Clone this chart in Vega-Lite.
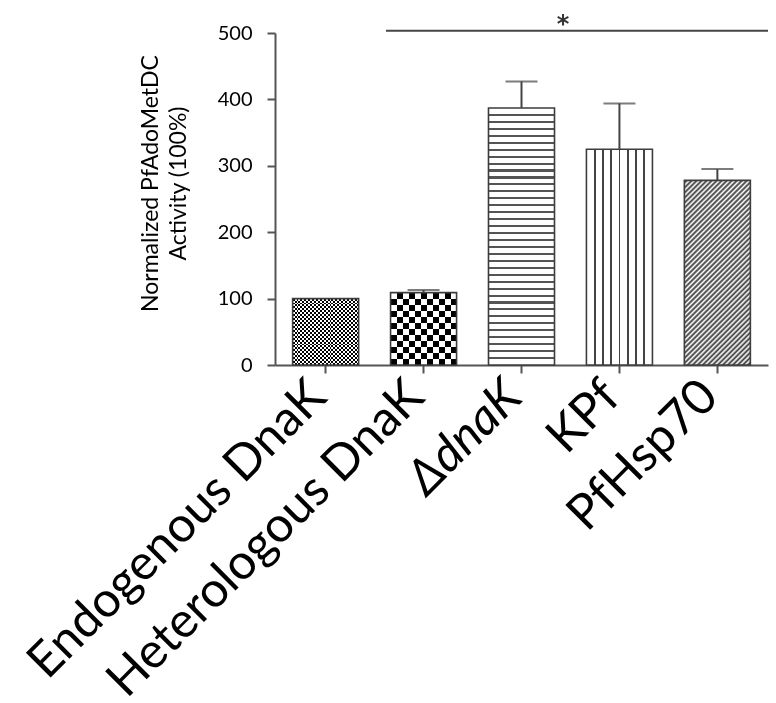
{
  "$schema": "https://vega.github.io/schema/vega-lite/v6.json",
  "width": 493,
  "height": 332,
  "autosize": {"type": "none"},
  "padding": {"left": 275, "top": 33, "right": 8, "bottom": 338},
  "background": "white",
  "config": {
    "view": {"stroke": null},
    "font": "Lato, Open Sans, sans-serif",
    "axis": {"grid": false, "domainColor": "#555", "domainWidth": 2, "tickColor": "#555", "tickWidth": 2, "tickSize": 8, "labelColor": "#000", "titleColor": "#000", "titleFontWeight": "normal"},
    "axisY": {"labelFontSize": 20, "labelPadding": 15, "titleFontSize": 23, "titleX": -136, "titleY": 150, "titleAlign": "center", "titleBaseline": "top", "titleLineHeight": 28, "titleAngle": 270},
    "axisX": {"labelAngle": -45, "labelAlign": "right", "labelBaseline": "alphabetic", "labelFontSize": 49, "labelPadding": 26, "labelOffset": 3, "tickOffset": 5, "labelLimit": 2000, "labelOverlap": false, "labelBound": false, "labelFlush": false}
  },
  "layer": [
    {
      "data": {"values": [
        {"g": "Endogenous DnaK", "v": 100, "hi": null},
        {"g": "Heterologous DnaK", "v": 109, "hi": 113},
        {"g": "ΔdnaK", "v": 387, "hi": 427},
        {"g": "KPf", "v": 325, "hi": 394},
        {"g": "PfHsp70", "v": 278, "hi": 295}
      ]},
      "encoding": {
        "x": {"field": "g", "type": "nominal", "sort": null, "title": null,
          "scale": {"paddingInner": 0.326, "paddingOuter": 0.18},
          "axis": {"labelFontStyle": {"condition": {"test": "datum.value === 'ΔdnaK'", "value": "italic"}, "value": "normal"}}},
        "y": {"field": "v", "type": "quantitative", "scale": {"domain": [0, 500], "nice": false},
          "axis": {"values": [0, 100, 200, 300, 400, 500], "title": ["Normalized PfAdoMetDC", "Activity (100%)"]}}
      },
      "layer": [
        {
          "mark": {"type": "bar", "strokeWidth": 0},
          "encoding": {
            "fill": {
              "condition": [
                {"test": "datum.g === 'Endogenous DnaK'", "value": {"gradient": "linear", "x1": 0, "y1": 0, "x2": 0, "y2": 1, "stops": [
                  {"offset":0,"color":"#000"},
                  {"offset":0.0294,"color":"#000"},{"offset":0.0294,"color":"#fff"},
                  {"offset":0.0588,"color":"#fff"},{"offset":0.0588,"color":"#000"},
                  {"offset":0.0882,"color":"#000"},{"offset":0.0882,"color":"#fff"},
                  {"offset":0.1176,"color":"#fff"},{"offset":0.1176,"color":"#000"},
                  {"offset":0.1471,"color":"#000"},{"offset":0.1471,"color":"#fff"},
                  {"offset":0.1765,"color":"#fff"},{"offset":0.1765,"color":"#000"},
                  {"offset":0.2059,"color":"#000"},{"offset":0.2059,"color":"#fff"},
                  {"offset":0.2353,"color":"#fff"},{"offset":0.2353,"color":"#000"},
                  {"offset":0.2647,"color":"#000"},{"offset":0.2647,"color":"#fff"},
                  {"offset":0.2941,"color":"#fff"},{"offset":0.2941,"color":"#000"},
                  {"offset":0.3235,"color":"#000"},{"offset":0.3235,"color":"#fff"},
                  {"offset":0.3529,"color":"#fff"},{"offset":0.3529,"color":"#000"},
                  {"offset":0.3824,"color":"#000"},{"offset":0.3824,"color":"#fff"},
                  {"offset":0.4118,"color":"#fff"},{"offset":0.4118,"color":"#000"},
                  {"offset":0.4412,"color":"#000"},{"offset":0.4412,"color":"#fff"},
                  {"offset":0.4706,"color":"#fff"},{"offset":0.4706,"color":"#000"},
                  {"offset":0.5,"color":"#000"},{"offset":0.5,"color":"#fff"},
                  {"offset":0.5294,"color":"#fff"},{"offset":0.5294,"color":"#000"},
                  {"offset":0.5588,"color":"#000"},{"offset":0.5588,"color":"#fff"},
                  {"offset":0.5882,"color":"#fff"},{"offset":0.5882,"color":"#000"},
                  {"offset":0.6176,"color":"#000"},{"offset":0.6176,"color":"#fff"},
                  {"offset":0.6471,"color":"#fff"},{"offset":0.6471,"color":"#000"},
                  {"offset":0.6765,"color":"#000"},{"offset":0.6765,"color":"#fff"},
                  {"offset":0.7059,"color":"#fff"},{"offset":0.7059,"color":"#000"},
                  {"offset":0.7353,"color":"#000"},{"offset":0.7353,"color":"#fff"},
                  {"offset":0.7647,"color":"#fff"},{"offset":0.7647,"color":"#000"},
                  {"offset":0.7941,"color":"#000"},{"offset":0.7941,"color":"#fff"},
                  {"offset":0.8235,"color":"#fff"},{"offset":0.8235,"color":"#000"},
                  {"offset":0.8529,"color":"#000"},{"offset":0.8529,"color":"#fff"},
                  {"offset":0.8824,"color":"#fff"},{"offset":0.8824,"color":"#000"},
                  {"offset":0.9118,"color":"#000"},{"offset":0.9118,"color":"#fff"},
                  {"offset":0.9412,"color":"#fff"},{"offset":0.9412,"color":"#000"},
                  {"offset":0.9706,"color":"#000"},{"offset":0.9706,"color":"#fff"},
                  {"offset":1,"color":"#fff"}]}},
                {"test": "datum.g === 'Heterologous DnaK'", "value": {"gradient": "linear", "x1": 0, "y1": 0, "x2": 0, "y2": 1, "stops": [
                  {"offset":0,"color":"#000"},{"offset":0.0833,"color":"#000"},{"offset":0.0833,"color":"#fff"},
                  {"offset":0.1667,"color":"#fff"},{"offset":0.1667,"color":"#000"},{"offset":0.25,"color":"#000"},
                  {"offset":0.25,"color":"#fff"},{"offset":0.3333,"color":"#fff"},{"offset":0.3333,"color":"#000"},
                  {"offset":0.4167,"color":"#000"},{"offset":0.4167,"color":"#fff"},{"offset":0.5,"color":"#fff"},
                  {"offset":0.5,"color":"#000"},{"offset":0.5833,"color":"#000"},{"offset":0.5833,"color":"#fff"},
                  {"offset":0.6667,"color":"#fff"},{"offset":0.6667,"color":"#000"},{"offset":0.75,"color":"#000"},
                  {"offset":0.75,"color":"#fff"},{"offset":0.8333,"color":"#fff"},{"offset":0.8333,"color":"#000"},
                  {"offset":0.9167,"color":"#000"},{"offset":0.9167,"color":"#fff"},{"offset":1,"color":"#fff"}]}},
                {"test": "datum.g === 'ΔdnaK'", "value": {"gradient": "linear", "x1": 0, "y1": 0, "x2": 0, "y2": 1, "stops": [
                  {"offset":0.0230,"color":"#fff"},{"offset":0.0230,"color":"#555"},{"offset":0.0310,"color":"#555"},{"offset":0.0310,"color":"#fff"},
                  {"offset":0.0501,"color":"#fff"},{"offset":0.0501,"color":"#555"},{"offset":0.0581,"color":"#555"},{"offset":0.0581,"color":"#fff"},
                  {"offset":0.0771,"color":"#fff"},{"offset":0.0771,"color":"#555"},{"offset":0.0851,"color":"#555"},{"offset":0.0851,"color":"#fff"},
                  {"offset":0.1041,"color":"#fff"},{"offset":0.1041,"color":"#555"},{"offset":0.1121,"color":"#555"},{"offset":0.1121,"color":"#fff"},
                  {"offset":0.1311,"color":"#fff"},{"offset":0.1311,"color":"#555"},{"offset":0.1391,"color":"#555"},{"offset":0.1391,"color":"#fff"},
                  {"offset":0.1582,"color":"#fff"},{"offset":0.1582,"color":"#555"},{"offset":0.1662,"color":"#555"},{"offset":0.1662,"color":"#fff"},
                  {"offset":0.1852,"color":"#fff"},{"offset":0.1852,"color":"#555"},{"offset":0.1932,"color":"#555"},{"offset":0.1932,"color":"#fff"},
                  {"offset":0.2122,"color":"#fff"},{"offset":0.2122,"color":"#555"},{"offset":0.2202,"color":"#555"},{"offset":0.2202,"color":"#fff"},
                  {"offset":0.2392,"color":"#fff"},{"offset":0.2392,"color":"#555"},{"offset":0.2472,"color":"#555"},{"offset":0.2472,"color":"#fff"},
                  {"offset":0.2663,"color":"#fff"},{"offset":0.2663,"color":"#555"},{"offset":0.2743,"color":"#555"},{"offset":0.2743,"color":"#fff"},
                  {"offset":0.2933,"color":"#fff"},{"offset":0.2933,"color":"#555"},{"offset":0.3013,"color":"#555"},{"offset":0.3013,"color":"#fff"},
                  {"offset":0.3203,"color":"#fff"},{"offset":0.3203,"color":"#555"},{"offset":0.3283,"color":"#555"},{"offset":0.3283,"color":"#fff"},
                  {"offset":0.3474,"color":"#fff"},{"offset":0.3474,"color":"#555"},{"offset":0.3554,"color":"#555"},{"offset":0.3554,"color":"#fff"},
                  {"offset":0.3744,"color":"#fff"},{"offset":0.3744,"color":"#555"},{"offset":0.3824,"color":"#555"},{"offset":0.3824,"color":"#fff"},
                  {"offset":0.4014,"color":"#fff"},{"offset":0.4014,"color":"#555"},{"offset":0.4094,"color":"#555"},{"offset":0.4094,"color":"#fff"},
                  {"offset":0.4284,"color":"#fff"},{"offset":0.4284,"color":"#555"},{"offset":0.4364,"color":"#555"},{"offset":0.4364,"color":"#fff"},
                  {"offset":0.4555,"color":"#fff"},{"offset":0.4555,"color":"#555"},{"offset":0.4635,"color":"#555"},{"offset":0.4635,"color":"#fff"},
                  {"offset":0.4825,"color":"#fff"},{"offset":0.4825,"color":"#555"},{"offset":0.4905,"color":"#555"},{"offset":0.4905,"color":"#fff"},
                  {"offset":0.5095,"color":"#fff"},{"offset":0.5095,"color":"#555"},{"offset":0.5175,"color":"#555"},{"offset":0.5175,"color":"#fff"},
                  {"offset":0.5365,"color":"#fff"},{"offset":0.5365,"color":"#555"},{"offset":0.5445,"color":"#555"},{"offset":0.5445,"color":"#fff"},
                  {"offset":0.5636,"color":"#fff"},{"offset":0.5636,"color":"#555"},{"offset":0.5716,"color":"#555"},{"offset":0.5716,"color":"#fff"},
                  {"offset":0.5906,"color":"#fff"},{"offset":0.5906,"color":"#555"},{"offset":0.5986,"color":"#555"},{"offset":0.5986,"color":"#fff"},
                  {"offset":0.6176,"color":"#fff"},{"offset":0.6176,"color":"#555"},{"offset":0.6256,"color":"#555"},{"offset":0.6256,"color":"#fff"},
                  {"offset":0.6446,"color":"#fff"},{"offset":0.6446,"color":"#555"},{"offset":0.6526,"color":"#555"},{"offset":0.6526,"color":"#fff"},
                  {"offset":0.6717,"color":"#fff"},{"offset":0.6717,"color":"#555"},{"offset":0.6797,"color":"#555"},{"offset":0.6797,"color":"#fff"},
                  {"offset":0.6987,"color":"#fff"},{"offset":0.6987,"color":"#555"},{"offset":0.7067,"color":"#555"},{"offset":0.7067,"color":"#fff"},
                  {"offset":0.7257,"color":"#fff"},{"offset":0.7257,"color":"#555"},{"offset":0.7337,"color":"#555"},{"offset":0.7337,"color":"#fff"},
                  {"offset":0.7528,"color":"#fff"},{"offset":0.7528,"color":"#555"},{"offset":0.7608,"color":"#555"},{"offset":0.7608,"color":"#fff"},
                  {"offset":0.7798,"color":"#fff"},{"offset":0.7798,"color":"#555"},{"offset":0.7878,"color":"#555"},{"offset":0.7878,"color":"#fff"},
                  {"offset":0.8068,"color":"#fff"},{"offset":0.8068,"color":"#555"},{"offset":0.8148,"color":"#555"},{"offset":0.8148,"color":"#fff"},
                  {"offset":0.8338,"color":"#fff"},{"offset":0.8338,"color":"#555"},{"offset":0.8418,"color":"#555"},{"offset":0.8418,"color":"#fff"},
                  {"offset":0.8609,"color":"#fff"},{"offset":0.8609,"color":"#555"},{"offset":0.8689,"color":"#555"},{"offset":0.8689,"color":"#fff"},
                  {"offset":0.8879,"color":"#fff"},{"offset":0.8879,"color":"#555"},{"offset":0.8959,"color":"#555"},{"offset":0.8959,"color":"#fff"},
                  {"offset":0.9149,"color":"#fff"},{"offset":0.9149,"color":"#555"},{"offset":0.9229,"color":"#555"},{"offset":0.9229,"color":"#fff"},
                  {"offset":0.9419,"color":"#fff"},{"offset":0.9419,"color":"#555"},{"offset":0.9499,"color":"#555"},{"offset":0.9499,"color":"#fff"},
                  {"offset":0.9690,"color":"#fff"},{"offset":0.9690,"color":"#555"},{"offset":0.9770,"color":"#555"},{"offset":0.9770,"color":"#fff"}]}},
                {"test": "datum.g === 'KPf'", "value": {"gradient": "linear", "x1": 0, "y1": 0, "x2": 1, "y2": 0, "stops": [
                  {"offset":0.111,"color":"#fff"},{"offset":0.111,"color":"#444"},{"offset":0.139,"color":"#444"},{"offset":0.139,"color":"#fff"},
                  {"offset":0.236,"color":"#fff"},{"offset":0.236,"color":"#444"},{"offset":0.264,"color":"#444"},{"offset":0.264,"color":"#fff"},
                  {"offset":0.361,"color":"#fff"},{"offset":0.361,"color":"#444"},{"offset":0.389,"color":"#444"},{"offset":0.389,"color":"#fff"},
                  {"offset":0.486,"color":"#fff"},{"offset":0.486,"color":"#444"},{"offset":0.514,"color":"#444"},{"offset":0.514,"color":"#fff"},
                  {"offset":0.611,"color":"#fff"},{"offset":0.611,"color":"#444"},{"offset":0.639,"color":"#444"},{"offset":0.639,"color":"#fff"},
                  {"offset":0.736,"color":"#fff"},{"offset":0.736,"color":"#444"},{"offset":0.764,"color":"#444"},{"offset":0.764,"color":"#fff"},
                  {"offset":0.861,"color":"#fff"},{"offset":0.861,"color":"#444"},{"offset":0.889,"color":"#444"},{"offset":0.889,"color":"#fff"}]}}
              ],
              "value": {"gradient": "linear", "x1": 0, "y1": 0, "x2": 0.4294, "y2": 1.2036, "stops": [
                {"offset":0,"color":"#fff"},{"offset":0.01,"color":"#333"},{"offset":0.02,"color":"#fff"},{"offset":0.03,"color":"#333"},{"offset":0.04,"color":"#fff"},
                {"offset":0.05,"color":"#333"},{"offset":0.06,"color":"#fff"},{"offset":0.07,"color":"#333"},{"offset":0.08,"color":"#fff"},{"offset":0.09,"color":"#333"},
                {"offset":0.10,"color":"#fff"},{"offset":0.11,"color":"#333"},{"offset":0.12,"color":"#fff"},{"offset":0.13,"color":"#333"},{"offset":0.14,"color":"#fff"},
                {"offset":0.15,"color":"#333"},{"offset":0.16,"color":"#fff"},{"offset":0.17,"color":"#333"},{"offset":0.18,"color":"#fff"},{"offset":0.19,"color":"#333"},
                {"offset":0.20,"color":"#fff"},{"offset":0.21,"color":"#333"},{"offset":0.22,"color":"#fff"},{"offset":0.23,"color":"#333"},{"offset":0.24,"color":"#fff"},
                {"offset":0.25,"color":"#333"},{"offset":0.26,"color":"#fff"},{"offset":0.27,"color":"#333"},{"offset":0.28,"color":"#fff"},{"offset":0.29,"color":"#333"},
                {"offset":0.30,"color":"#fff"},{"offset":0.31,"color":"#333"},{"offset":0.32,"color":"#fff"},{"offset":0.33,"color":"#333"},{"offset":0.34,"color":"#fff"},
                {"offset":0.35,"color":"#333"},{"offset":0.36,"color":"#fff"},{"offset":0.37,"color":"#333"},{"offset":0.38,"color":"#fff"},{"offset":0.39,"color":"#333"},
                {"offset":0.40,"color":"#fff"},{"offset":0.41,"color":"#333"},{"offset":0.42,"color":"#fff"},{"offset":0.43,"color":"#333"},{"offset":0.44,"color":"#fff"},
                {"offset":0.45,"color":"#333"},{"offset":0.46,"color":"#fff"},{"offset":0.47,"color":"#333"},{"offset":0.48,"color":"#fff"},{"offset":0.49,"color":"#333"},
                {"offset":0.50,"color":"#fff"},{"offset":0.51,"color":"#333"},{"offset":0.52,"color":"#fff"},{"offset":0.53,"color":"#333"},{"offset":0.54,"color":"#fff"},
                {"offset":0.55,"color":"#333"},{"offset":0.56,"color":"#fff"},{"offset":0.57,"color":"#333"},{"offset":0.58,"color":"#fff"},{"offset":0.59,"color":"#333"},
                {"offset":0.60,"color":"#fff"},{"offset":0.61,"color":"#333"},{"offset":0.62,"color":"#fff"},{"offset":0.63,"color":"#333"},{"offset":0.64,"color":"#fff"},
                {"offset":0.65,"color":"#333"},{"offset":0.66,"color":"#fff"},{"offset":0.67,"color":"#333"},{"offset":0.68,"color":"#fff"},{"offset":0.69,"color":"#333"},
                {"offset":0.70,"color":"#fff"},{"offset":0.71,"color":"#333"},{"offset":0.72,"color":"#fff"},{"offset":0.73,"color":"#333"},{"offset":0.74,"color":"#fff"},
                {"offset":0.75,"color":"#333"},{"offset":0.76,"color":"#fff"},{"offset":0.77,"color":"#333"},{"offset":0.78,"color":"#fff"},{"offset":0.79,"color":"#333"},
                {"offset":0.80,"color":"#fff"},{"offset":0.81,"color":"#333"},{"offset":0.82,"color":"#fff"},{"offset":0.83,"color":"#333"},{"offset":0.84,"color":"#fff"},
                {"offset":0.85,"color":"#333"},{"offset":0.86,"color":"#fff"},{"offset":0.87,"color":"#333"},{"offset":0.88,"color":"#fff"},{"offset":0.89,"color":"#333"},
                {"offset":0.90,"color":"#fff"},{"offset":0.91,"color":"#333"},{"offset":0.92,"color":"#fff"},{"offset":0.93,"color":"#333"},{"offset":0.94,"color":"#fff"},
                {"offset":0.95,"color":"#333"},{"offset":0.96,"color":"#fff"},{"offset":0.97,"color":"#333"},{"offset":0.98,"color":"#fff"},{"offset":0.99,"color":"#333"},
                {"offset":1,"color":"#fff"}]}
            }
          }
        },
        {
          "transform": [{"filter": "datum.g === 'Endogenous DnaK' || datum.g === 'Heterologous DnaK'"}],
          "mark": {"type": "bar", "strokeWidth": 0, "blend": "difference"},
          "encoding": {
            "fill": {
              "condition": {"test": "datum.g === 'Endogenous DnaK'", "value": {"gradient": "linear", "x1": 0, "y1": 0, "x2": 1, "y2": 0, "stops": [
                  {"offset":0,"color":"#000"},
                  {"offset":0.0294,"color":"#000"},{"offset":0.0294,"color":"#fff"},
                  {"offset":0.0588,"color":"#fff"},{"offset":0.0588,"color":"#000"},
                  {"offset":0.0882,"color":"#000"},{"offset":0.0882,"color":"#fff"},
                  {"offset":0.1176,"color":"#fff"},{"offset":0.1176,"color":"#000"},
                  {"offset":0.1471,"color":"#000"},{"offset":0.1471,"color":"#fff"},
                  {"offset":0.1765,"color":"#fff"},{"offset":0.1765,"color":"#000"},
                  {"offset":0.2059,"color":"#000"},{"offset":0.2059,"color":"#fff"},
                  {"offset":0.2353,"color":"#fff"},{"offset":0.2353,"color":"#000"},
                  {"offset":0.2647,"color":"#000"},{"offset":0.2647,"color":"#fff"},
                  {"offset":0.2941,"color":"#fff"},{"offset":0.2941,"color":"#000"},
                  {"offset":0.3235,"color":"#000"},{"offset":0.3235,"color":"#fff"},
                  {"offset":0.3529,"color":"#fff"},{"offset":0.3529,"color":"#000"},
                  {"offset":0.3824,"color":"#000"},{"offset":0.3824,"color":"#fff"},
                  {"offset":0.4118,"color":"#fff"},{"offset":0.4118,"color":"#000"},
                  {"offset":0.4412,"color":"#000"},{"offset":0.4412,"color":"#fff"},
                  {"offset":0.4706,"color":"#fff"},{"offset":0.4706,"color":"#000"},
                  {"offset":0.5,"color":"#000"},{"offset":0.5,"color":"#fff"},
                  {"offset":0.5294,"color":"#fff"},{"offset":0.5294,"color":"#000"},
                  {"offset":0.5588,"color":"#000"},{"offset":0.5588,"color":"#fff"},
                  {"offset":0.5882,"color":"#fff"},{"offset":0.5882,"color":"#000"},
                  {"offset":0.6176,"color":"#000"},{"offset":0.6176,"color":"#fff"},
                  {"offset":0.6471,"color":"#fff"},{"offset":0.6471,"color":"#000"},
                  {"offset":0.6765,"color":"#000"},{"offset":0.6765,"color":"#fff"},
                  {"offset":0.7059,"color":"#fff"},{"offset":0.7059,"color":"#000"},
                  {"offset":0.7353,"color":"#000"},{"offset":0.7353,"color":"#fff"},
                  {"offset":0.7647,"color":"#fff"},{"offset":0.7647,"color":"#000"},
                  {"offset":0.7941,"color":"#000"},{"offset":0.7941,"color":"#fff"},
                  {"offset":0.8235,"color":"#fff"},{"offset":0.8235,"color":"#000"},
                  {"offset":0.8529,"color":"#000"},{"offset":0.8529,"color":"#fff"},
                  {"offset":0.8824,"color":"#fff"},{"offset":0.8824,"color":"#000"},
                  {"offset":0.9118,"color":"#000"},{"offset":0.9118,"color":"#fff"},
                  {"offset":0.9412,"color":"#fff"},{"offset":0.9412,"color":"#000"},
                  {"offset":0.9706,"color":"#000"},{"offset":0.9706,"color":"#fff"},
                  {"offset":1,"color":"#fff"}]}},
              "value": {"gradient": "linear", "x1": 0, "y1": 0, "x2": 1, "y2": 0, "stops": [
                {"offset":0,"color":"#fff"},{"offset":0.0909,"color":"#fff"},{"offset":0.0909,"color":"#000"},
                {"offset":0.1818,"color":"#000"},{"offset":0.1818,"color":"#fff"},{"offset":0.2727,"color":"#fff"},
                {"offset":0.2727,"color":"#000"},{"offset":0.3636,"color":"#000"},{"offset":0.3636,"color":"#fff"},
                {"offset":0.4545,"color":"#fff"},{"offset":0.4545,"color":"#000"},{"offset":0.5455,"color":"#000"},
                {"offset":0.5455,"color":"#fff"},{"offset":0.6364,"color":"#fff"},{"offset":0.6364,"color":"#000"},
                {"offset":0.7273,"color":"#000"},{"offset":0.7273,"color":"#fff"},{"offset":0.8182,"color":"#fff"},
                {"offset":0.8182,"color":"#000"},{"offset":0.9091,"color":"#000"},{"offset":0.9091,"color":"#fff"},
                {"offset":1,"color":"#fff"}]}
            }
          }
        },
        {
          "mark": {"type": "bar", "fill": "transparent", "stroke": "#3d3d3d", "strokeWidth": 1.6}
        },
        {
          "transform": [{"filter": "datum.hi != null"}],
          "mark": {"type": "rule", "color": "#444", "strokeWidth": 2},
          "encoding": {"y2": {"field": "hi"}}
        },
        {
          "transform": [{"filter": "datum.hi != null"}],
          "mark": {"type": "tick", "color": "#444", "size": 32, "thickness": 2},
          "encoding": {"y": {"field": "hi", "type": "quantitative", "axis": {"values": [0, 100, 200, 300, 400, 500], "title": ["Normalized PfAdoMetDC", "Activity (100%)"]}}}
        }
      ]
    },
    {
      "data": {"values": [{"x0": 1.126, "x1": 5, "y": 503.5, "t": "*", "xs": 2.92, "ys": 501}]},
      "layer": [
        {
          "mark": {"type": "rule", "color": "#444", "strokeWidth": 2},
          "encoding": {
            "x": {"field": "x0", "type": "quantitative", "scale": {"domain": [0, 5], "nice": false, "zero": false}, "axis": null},
            "x2": {"field": "x1"},
            "y": {"field": "y", "type": "quantitative"}
          }
        },
        {
          "mark": {"type": "text", "font": "DejaVu Sans", "fontWeight": "bold", "fontSize": 24, "baseline": "alphabetic", "align": "center", "color": "#333"},
          "encoding": {
            "x": {"field": "xs", "type": "quantitative", "scale": {"domain": [0, 5], "nice": false, "zero": false}, "axis": null},
            "y": {"field": "ys", "type": "quantitative"},
            "text": {"field": "t"}
          }
        }
      ]
    }
  ],
  "resolve": {"scale": {"x": "independent"}, "axis": {"x": "independent"}}
}
